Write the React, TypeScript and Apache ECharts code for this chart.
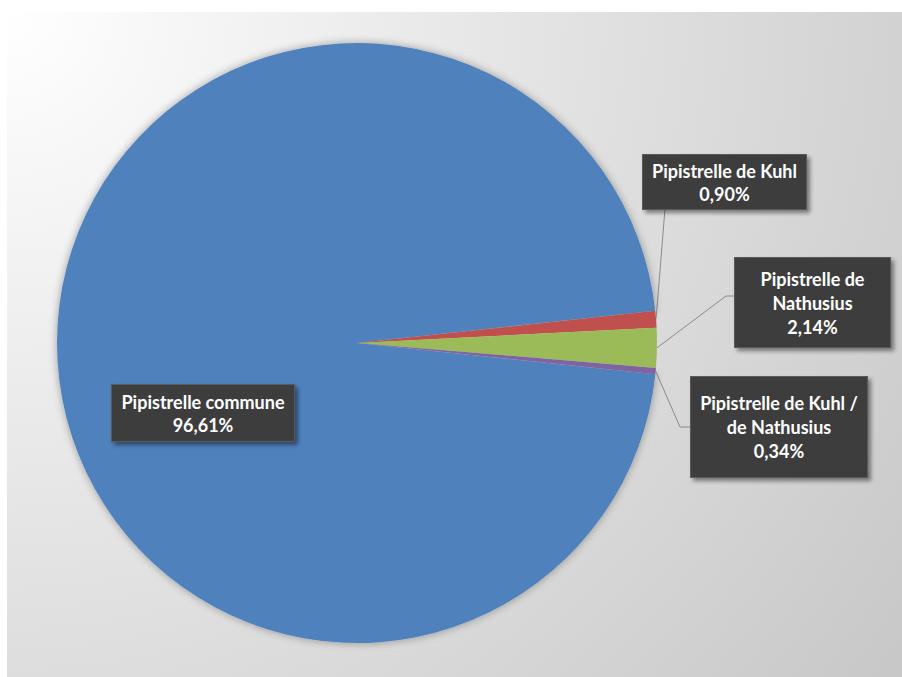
import React, { useEffect, useRef } from 'react';
import * as echarts from 'echarts';

// ---- data ----
const species = [
  'Pipistrelle commune',
  'Pipistrelle de Kuhl',
  'Pipistrelle de Nathusius',
  'Pipistrelle de Kuhl / de Nathusius',
];
const labelTexts = [
  'Pipistrelle commune',
  'Pipistrelle de Kuhl',
  'Pipistrelle de\nNathusius',
  'Pipistrelle de Kuhl /\nde Nathusius',
];
const percents = [96.61, 0.9, 2.14, 0.34];

// ---- style / layout ----
const colors = ['#4f81bd', '#c0504d', '#9bbb59', '#8064a2'];
const labelBoxes = [
  { cx: 203, cy: 413, w: 182, h: 56, lh: 23 },
  { cx: 724.5, cy: 182, w: 163, h: 54, lh: 23 },
  { cx: 812.5, cy: 302.5, w: 155, h: 89, lh: 24 },
  { cx: 779, cy: 427, w: 176, h: 100, lh: 24 },
];
const FONT = 'Lato, "Noto Sans", sans-serif';

export default function App() {
  const ref = useRef<HTMLDivElement>(null);

  useEffect(() => {
    if (!ref.current) return;
    const chart = echarts.init(ref.current, null, { renderer: 'svg' });

    const data = species.map((name, i) => {
      const b = labelBoxes[i];
      const lines = labelTexts[i].split('\n').length + 1;
      const pv = (b.h - lines * b.lh) / 2;
      return {
        name,
        value: percents[i],
        itemStyle:
          i === 0
            ? { color: colors[i], shadowBlur: 8, shadowColor: 'rgba(0,0,0,0.35)' }
            : { color: colors[i] },
        label: {
          width: b.w,
          lineHeight: b.lh,
          padding: [pv, 0, pv, 0],
        },
        labelLine: { show: i !== 0 },
      };
    });

    chart.setOption({
      animation: false,
      backgroundColor: '#ffffff',
      graphic: [
        {
          type: 'rect',
          left: 7,
          top: 12,
          silent: true,
          z: -10,
          shape: { x: 0, y: 0, width: 895, height: 665 },
          style: {
            fill: new echarts.graphic.RadialGradient(
              0,
              0,
              1100,
              [
                { offset: 0, color: '#ffffff' },
                { offset: 0.35, color: '#ebebeb' },
                { offset: 0.7, color: '#d8d8d8' },
                { offset: 1, color: '#c8c8c8' },
              ],
              true
            ),
          },
        },
      ],
      series: [
        {
          type: 'pie',
          center: [357, 343],
          radius: 300,
          startAngle: 354,
          clockwise: true,
          avoidLabelOverlap: false,
          data,
          label: {
            show: true,
            position: 'outside',
            formatter: (p: any) =>
              labelTexts[p.dataIndex] + '\n' + p.value.toFixed(2).replace('.', ',') + '%',
            color: '#ffffff',
            fontFamily: FONT,
            fontWeight: 'bold',
            fontSize: 18,
            align: 'center',
            backgroundColor: '#3c3c3c',
            borderColor: '#5a5a5a',
            borderWidth: 1,
            shadowBlur: 4,
            shadowOffsetX: 3,
            shadowOffsetY: 3,
            shadowColor: 'rgba(0,0,0,0.45)',
          },
          labelLine: {
            show: true,
            length: 10,
            length2: 10,
            lineStyle: { color: '#8a8a8a', width: 1 },
          },
          labelLayout: (params: any) => {
            const i = params.dataIndex;
            const b = labelBoxes[i];
            const out: any = { x: b.cx, y: b.cy, align: 'center', verticalAlign: 'middle' };
            const pts = params.labelLinePoints;
            if (pts && pts.length && i > 0) {
              const start = pts[0];
              const left = b.cx - b.w / 2;
              const top = b.cy - b.h / 2;
              if (i === 1) {
                const end = [left + 22, top + b.h];
                out.labelLinePoints = [start, end, end];
              } else if (i === 2) {
                out.labelLinePoints = [start, [left - 9, top + 38], [left, top + 38]];
              } else {
                out.labelLinePoints = [start, [left - 11, b.cy], [left, b.cy]];
              }
            }
            return out;
          },
        },
      ],
    });

    return () => chart.dispose();
  }, []);

  return (
    <div
      ref={ref}
      style={{ position: 'fixed', left: 0, top: 0, width: 902, height: 677 }}
    />
  );
}
